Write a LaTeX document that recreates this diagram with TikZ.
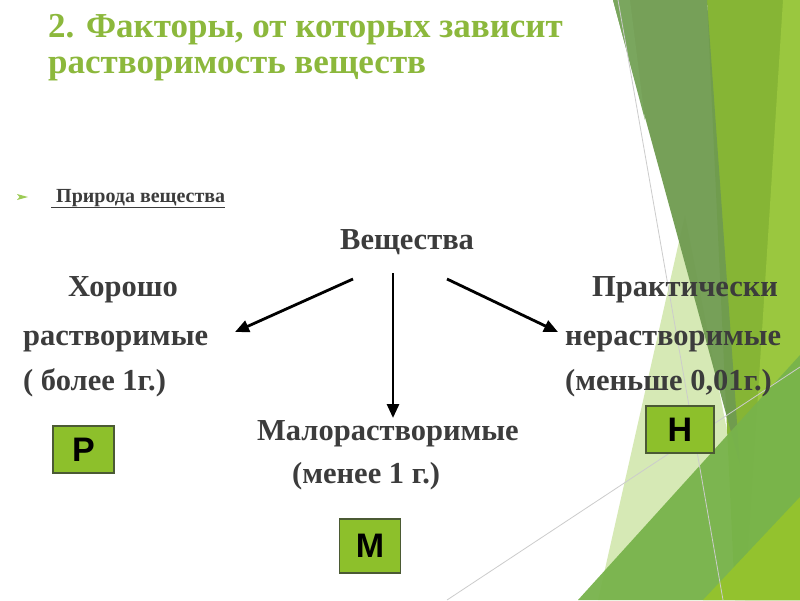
\documentclass[tikz,border=0pt]{standalone}
\usepackage{fontspec}
\setmainfont{Liberation Serif}
\setsansfont{Liberation Sans}
\usetikzlibrary{arrows.meta}
\usetikzlibrary{positioning}

\definecolor{titlegreen}{HTML}{8CB83C}
\definecolor{textgrey}{HTML}{3C3C3C}
\definecolor{boxgreen}{HTML}{8DC02B}
\definecolor{boxedge}{HTML}{4B5A34}
\definecolor{bandgreen}{HTML}{6F9B50}
\definecolor{bandlight}{HTML}{7AA65E}
\definecolor{midgreen}{HTML}{86B535}
\definecolor{leafgreen}{HTML}{9AC73F}
\definecolor{palegreen}{HTML}{D6E9B5}
\definecolor{grassgreen}{HTML}{78B34B}
\definecolor{limegreen}{HTML}{93C22E}
\definecolor{bulletgreen}{HTML}{9CCB55}

\begin{document}
\begin{tikzpicture}[
        x=1pt, y=-1pt,
        title/.style={anchor=base west, inner sep=0pt, text=titlegreen, font=\fontsize{35}{38}\selectfont\bfseries},
        txt/.style={anchor=base west, inner sep=0pt, text=textgrey, font=\fontsize{30.5}{36}\selectfont\bfseries},
        letterbox/.style={draw=boxedge, line width=1.5pt, fill=boxgreen, inner sep=0pt, minimum width=61pt, minimum height=47pt, font=\sffamily\bfseries\fontsize{34}{34}\selectfont},
        arrow/.style={-{Triangle[length=14pt,width=12pt]}, line width=2.8pt}
    ]
        \useasboundingbox[fill=white] (0,0) rectangle (800,600);

        % Background bands
        \fill[palegreen] (685,215) -- (598,600) -- (760,600) -- cycle;
        \fill[midgreen] (707,0) -- (800,0) -- (800,600) -- (735,600) -- cycle;
        \fill[leafgreen] (783,0) -- (800,0) -- (800,600) -- (745,600) -- cycle;
        \fill[bandgreen, opacity=0.95] (613,0) -- (707,0) -- (740,465) -- cycle;
        \fill[bandlight] (613,0) -- (630,0) -- (645,120) -- cycle;
        \fill[grassgreen, opacity=0.95] (578,600) -- (800,355) -- (800,600) -- cycle;
        \fill[limegreen] (703,600) -- (800,497) -- (800,600) -- cycle;
        \draw[gray!40, line width=0.8pt] (618,0) -- (723,600);
        \draw[gray!40, line width=0.8pt] (447,600) -- (800,367);

        % Title
        \node[title] (title1) at (48,37) {2. Факторы, от которых зависит};
        \node[title] (title2) at (48,73) {растворимость веществ};

        % Bullet
        \fill[bulletgreen] (17,194) -- (28,197) -- (17,200) -- (19.5,197) -- cycle;
        \node[anchor=base west, inner sep=0pt, text=textgrey, font=\fontsize{20}{22}\selectfont\bfseries] (nature) at (51,202) {\underline{\ Природа вещества}};

        % Texts
        \node[txt] (subst) at (340,249) {Вещества};
        \node[txt] (good1) at (68,296) {Хорошо};
        \node[txt] (good2) at (23,345) {растворимые};
        \node[txt] (good3) at (23,390) {( более 1г.)};
        \node[txt] (bad1) at (592,296) {Практически};
        \node[txt] (bad2) at (565,345) {нерастворимые};
        \node[txt] (bad3) at (565,390) {(меньше 0,01г.)};
        \node[txt] (low1) at (257,440) {Малорастворимые};
        \node[txt] (low2) at (292,483) {(менее 1 г.)};

        % Letter boxes
        \node[letterbox] (boxR) at (83.5,449.5) {Р};
        \node[letterbox, minimum width=68pt] (boxN) at (680,429.5) {Н};
        \node[letterbox, minimum height=54pt] (boxM) at (370,546) {М};

        % Arrows
        \coordinate (fromL) at (353,279);
        \coordinate (toL) at (235,332);
        \coordinate (fromM) at (393,273);
        \coordinate (toM) at (393,418);
        \coordinate (fromR) at (447,279);
        \coordinate (toR) at (558,332);
        \draw[arrow] (fromL) -- (toL);
        \draw[arrow] (fromM) -- (toM);
        \draw[arrow] (fromR) -- (toR);
    \end{tikzpicture}
\end{document}
